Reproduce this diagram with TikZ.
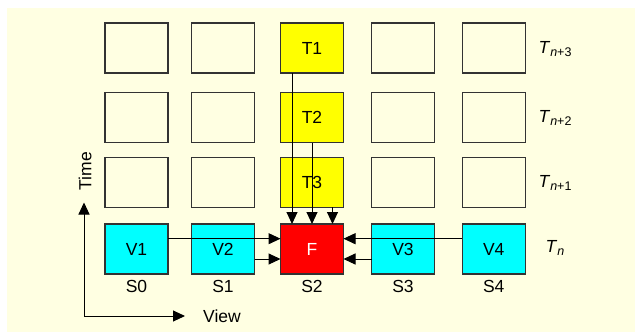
\documentclass[tikz,border=0pt]{standalone}
\usepackage{fontspec}
\setmainfont{Liberation Sans}
\usetikzlibrary{arrows.meta}
\definecolor{bgyel}{RGB}{255,255,226}
\definecolor{boxline}{RGB}{51,51,51}
\definecolor{cyanbox}{RGB}{0,255,255}
\definecolor{yelbox}{RGB}{255,255,0}
\definecolor{redbox}{RGB}{255,0,0}
\tikzset{
  cell/.style={draw=boxline, line width=1.3pt, minimum width=63pt, minimum height=50pt, inner sep=0pt, outer sep=0pt, font=\fontsize{17.5}{20}\selectfont},
  emptycell/.style={cell, fill=bgyel},
  tcell/.style={cell, fill=yelbox},
  vcell/.style={cell, fill=cyanbox},
  fcell/.style={cell, fill=redbox, text=white},
  lbl/.style={inner sep=0pt, font=\fontsize{17.5}{20}\selectfont},
  arr/.style={draw=black, line width=1pt, -{Triangle[length=12pt,width=11pt]}},
}
\newcommand{\tlab}[1]{\textit{T}\raisebox{-0.4ex}{\fontsize{12.5}{12.5}\selectfont\textit{n}#1}}
\begin{document}
\begin{tikzpicture}[x=1pt,y=-1pt]
\fill[white] (0,0) rectangle (635,332);
\fill[bgyel] (6.5,7.5) rectangle (635,332);
\useasboundingbox (0,0) rectangle (635,332);
% row 1
\node[emptycell] (a0) at (136.5,48) {};
\node[emptycell] (a1) at (223,48) {};
\node[tcell] (T1) at (312,48) {T1};
\node[emptycell] (a3) at (403,48) {};
\node[emptycell] (a4) at (493.7,48) {};
% row 2
\node[emptycell] (b0) at (136.5,117.7) {};
\node[emptycell] (b1) at (223,117.7) {};
\node[tcell] (T2) at (312,117.7) {T2};
\node[emptycell] (b3) at (403,117.7) {};
\node[emptycell] (b4) at (493.7,117.7) {};
% row 3
\node[emptycell] (c0) at (136.5,182.3) {};
\node[emptycell] (c1) at (223,182.3) {};
\node[tcell] (T3) at (312,182.3) {T3};
\node[emptycell] (c3) at (403,182.3) {};
\node[emptycell] (c4) at (493.7,182.3) {};
% row 4
\node[vcell] (V1) at (136.5,249) {V1};
\node[vcell] (V2) at (223,249) {V2};
\node[fcell] (F) at (312,249) {F};
\node[vcell] (V3) at (403,249) {V3};
\node[vcell] (V4) at (493.7,249) {V4};
% S labels
\node[lbl] (s0) at (136.5,286) {S0};
\node[lbl] (s1) at (223,286) {S1};
\node[lbl] (s2) at (312,286) {S2};
\node[lbl] (s3) at (403,286) {S3};
\node[lbl] (s4) at (493.7,286) {S4};
% T labels
\node[lbl] (tn3) at (555,49) {\tlab{+3}};
\node[lbl] (tn2) at (555,118) {\tlab{+2}};
\node[lbl] (tn1) at (555,183) {\tlab{+1}};
\node[lbl] (tn) at (555,248) {\tlab{}};
% arrows
\draw[arr] ([xshift=-20pt]T1.south) -- ([xshift=-20pt]F.north);
\draw[arr] (T2.south) -- (F.north);
\draw[arr] ([xshift=20.5pt]T3.south) -- ([xshift=20.5pt]F.north);
\draw[arr] ([yshift=10.3pt]V1.east) -- ([yshift=10.3pt]F.west);
\draw[arr] ([yshift=-10pt]V2.east) -- ([yshift=-10pt]F.west);
\draw[arr] ([yshift=10.3pt]V4.west) -- ([yshift=10.3pt]F.east);
\draw[arr] ([yshift=-10pt]V3.west) -- ([yshift=-10pt]F.east);
% axes
\coordinate (O) at (84,316);
\coordinate (Ttop) at (84,202.5);
\coordinate (Vend) at (185,316);
\draw[arr] (O) -- (Ttop);
\draw[arr] (O) -- (Vend);
\node[lbl, rotate=90] (time) at (85,171) {Time};
\node[lbl] (view) at (222,316.5) {View};
\end{tikzpicture}
\end{document}
